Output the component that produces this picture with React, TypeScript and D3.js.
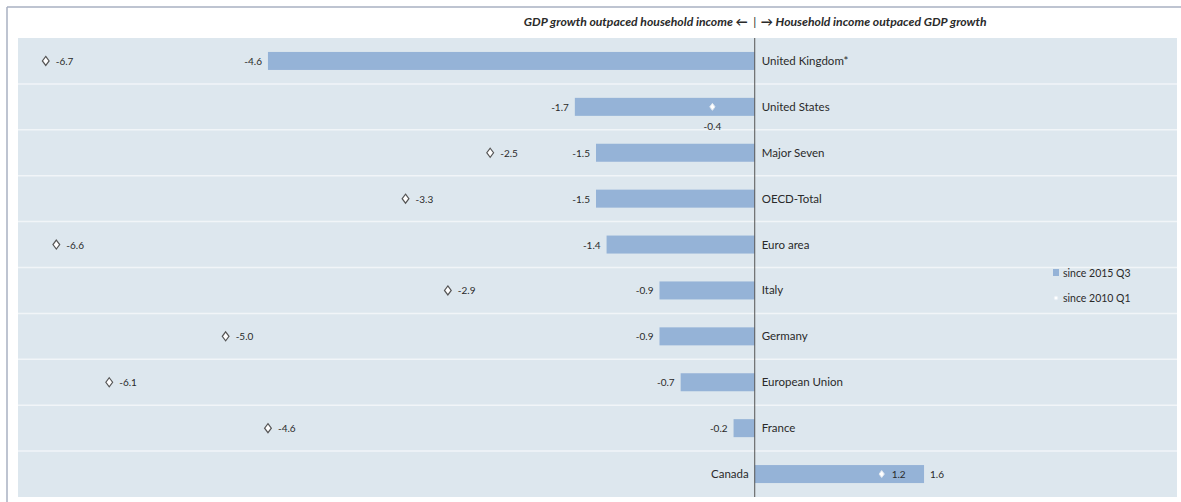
import React from "react";
import * as d3 from "d3";

const countries = [
  "United Kingdom*",
  "United States",
  "Major Seven",
  "OECD-Total",
  "Euro area",
  "Italy",
  "Germany",
  "European Union",
  "France",
  "Canada",
];
const since2015Q3 = [-4.6, -1.7, -1.5, -1.5, -1.4, -0.9, -0.9, -0.7, -0.2, 1.6];
const since2010Q1 = [-6.7, -0.4, -2.5, -3.3, -6.6, -2.9, -5.0, -6.1, -4.6, 1.2];
const seriesNames = ["since 2015 Q3", "since 2010 Q1"];
const headerLeft = "GDP growth outpaced household income \u2190";
const headerRight = "\u2192 Household income outpaced GDP growth";

const W = 1181;
const H = 502;
const FONT = "Lato, 'Open Sans', 'DejaVu Sans', sans-serif";
const BAR = "#95b3d7";
const BG = "#dde7ee";

export default function App() {
  const x = d3.scaleLinear().domain([-7, 4]).range([14, 1178]);
  const y = d3.scaleBand<string>().domain(countries).range([38, 497]).paddingInner(0);
  const bh = 18;
  const x0 = x(0);
  const left = 18;
  const right = 1177;
  const diamond = (cx: number, cy: number, r: number) =>
    `M${cx},${cy - r}L${cx + r * 0.75},${cy}L${cx},${cy + r}L${cx - r * 0.75},${cy}Z`;

  return (
    <svg width={W} height={H} style={{ position: "absolute", left: 0, top: 0, background: "#fff" }}>
      {/* frame */}
      <line x1={7} y1={7} x2={W} y2={7} stroke="#a9b1c2" strokeWidth={1.5} />
      <line x1={7} y1={7} x2={7} y2={H} stroke="#a9b1c2" strokeWidth={1.5} />
      {/* header */}
      <text x={x0 - 7} y={26} textAnchor="end" fontFamily={FONT} fontStyle="italic" fontWeight="bold" fontSize={12.2} fill="#2a2a2a">
        {headerLeft}
      </text>
      <text x={x0} y={26} textAnchor="middle" fontFamily={FONT} fontSize={12} fill="#2a2a2a">|</text>
      <text x={x0 + 6} y={26} textAnchor="start" fontFamily={FONT} fontStyle="italic" fontWeight="bold" fontSize={12.2} fill="#2a2a2a">
        {headerRight}
      </text>
      {/* plot background */}
      <rect x={left} y={38} width={right - left} height={459} fill={BG} />
      {countries.map((c, i) =>
        i > 0 ? (
          <line key={"sep" + c} x1={left} x2={right} y1={y(c)!} y2={y(c)!} stroke="#f1f5f8" strokeWidth={1.5} />
        ) : null
      )}
      {/* bars */}
      {countries.map((c, i) => {
        const v = since2015Q3[i];
        const cy = y(c)! + y.bandwidth() / 2;
        return (
          <rect key={"bar" + c} x={Math.min(x(v), x0)} y={cy - bh / 2} width={Math.abs(x(v) - x0)} height={bh} fill={BAR} />
        );
      })}
      {/* zero line */}
      <line x1={x0} x2={x0} y1={38} y2={497} stroke="#555" strokeWidth={1} />
      {/* labels */}
      {countries.map((c, i) => {
        const v = since2015Q3[i];
        const d = since2010Q1[i];
        const cy = y(c)! + y.bandwidth() / 2;
        const isUS = c === "United States";
        const onBar = isUS || d > 0;
        return (
          <g key={"lab" + c} fontFamily={FONT} fill="#2a2a2a">
            <text x={v < 0 ? x0 + 7 : x0 - 6} y={cy + 4} textAnchor={v < 0 ? "start" : "end"} fontSize={11.5}>
              {c}
            </text>
            <text x={v < 0 ? x(v) - 6 : x(v) + 6} y={cy + 4} textAnchor={v < 0 ? "end" : "start"} fontSize={10}>
              {v.toFixed(1)}
            </text>
            <path
              d={diamond(x(d), cy, onBar ? 3.5 : 4.5)}
              fill="#fff"
              stroke={onBar ? "#dfe7f0" : "#555"}
              strokeWidth={onBar ? 1 : 1.2}
            />
            {isUS ? (
              <text x={x(d)} y={cy + 23} textAnchor="middle" fontSize={10}>{d.toFixed(1)}</text>
            ) : (
              <text x={x(d) + 10} y={cy + 4} textAnchor="start" fontSize={10}>{d.toFixed(1)}</text>
            )}
          </g>
        );
      })}
      {/* legend */}
      <g fontFamily={FONT} fontSize={10.5} fill="#2a2a2a">
        <rect x={1053} y={269} width={6} height={7} fill={BAR} />
        <text x={1063} y={276.5}>{seriesNames[0]}</text>
        <circle cx={1056} cy={298} r={2} fill="#fff" stroke="#e4ebf2" strokeWidth={0.8} />
        <text x={1063} y={301.5}>{seriesNames[1]}</text>
      </g>
    </svg>
  );
}
